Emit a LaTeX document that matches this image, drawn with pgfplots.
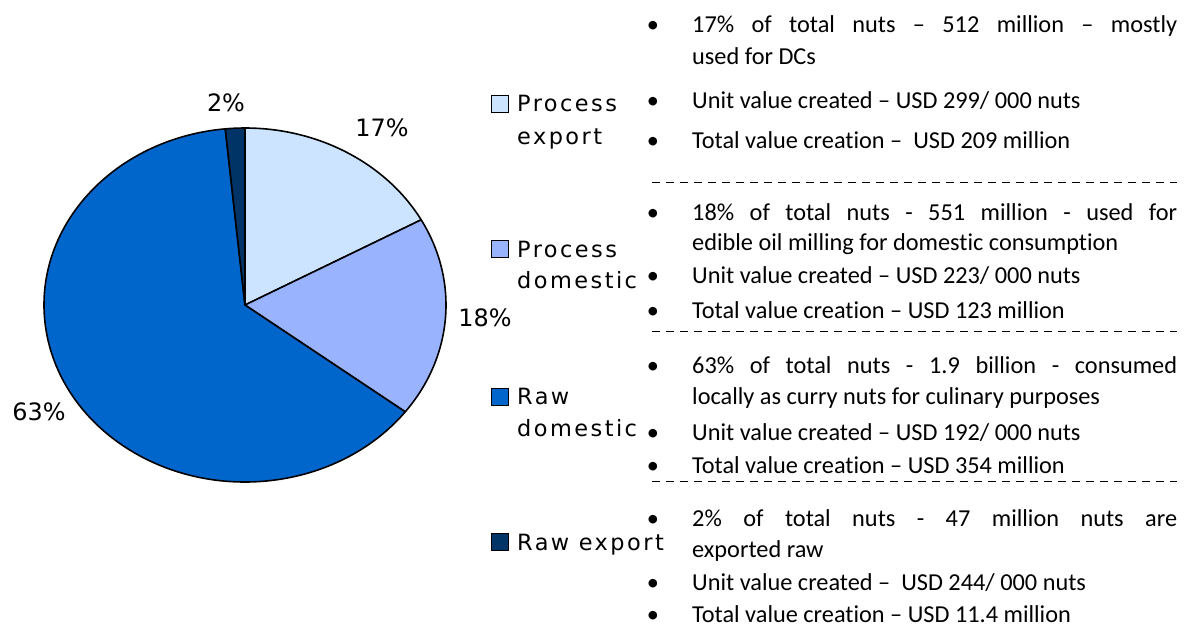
\documentclass[border=0pt]{standalone}
\usepackage{pgfplots}
\pgfplotsset{compat=1.18}
\usepackage{pgfplotstable}
\usepackage{fontspec}
\setmainfont{Carlito}[Ligatures=NoCommon]
\newfontfamily\lgd[LetterSpace=11]{DejaVu Sans}
\newfontfamily\pct{DejaVu Sans}

\definecolor{cPE}{RGB}{204,228,255}
\definecolor{cPD}{RGB}{153,179,255}
\definecolor{cRD}{RGB}{0,102,204}
\definecolor{cRE}{RGB}{0,51,102}

% nuts, million
\pgfplotstableread{
name value
PE 512
PD 551
RD 1900
RE 47
}\pietable

\pgfplotstablegetelem{0}{value}\of\pietable \pgfmathsetmacro\vA{\pgfplotsretval}
\pgfplotstablegetelem{1}{value}\of\pietable \pgfmathsetmacro\vB{\pgfplotsretval}
\pgfplotstablegetelem{2}{value}\of\pietable \pgfmathsetmacro\vC{\pgfplotsretval}
\pgfplotstablegetelem{3}{value}\of\pietable \pgfmathsetmacro\vD{\pgfplotsretval}
\pgfmathsetmacro\tot{\vA+\vB+\vC+\vD}
\pgfmathsetmacro\aA{90}
\pgfmathsetmacro\aB{\aA-360*(\vA/\tot)}
\pgfmathsetmacro\aC{\aB-360*(\vB/\tot)}
\pgfmathsetmacro\aD{\aC-360*(\vC/\tot)}
\pgfmathsetmacro\aE{\aD-360*(\vD/\tot)}

\newcommand\bt{\fontsize{24.4}{28}\selectfont}
\newcommand\lt{\lgd\fontsize{22.5}{26}\selectfont}

\begin{document}
\begin{tikzpicture}
\begin{axis}[width=1199bp,height=628bp,scale only axis,
  xmin=0,xmax=1199,ymin=0,ymax=628,y dir=reverse,
  axis lines=none,ticks=none,clip=false]
\path (axis cs:0,0) rectangle (axis cs:1199,628);
% pie
\draw[fill=cPE,line width=1.6pt,line join=round] (axis cs:245,305) -- ++(\aA:201bp and 177bp)
  arc[start angle=\aA,end angle=\aB,x radius=201bp,y radius=177bp] -- cycle;
\draw[fill=cPD,line width=1.6pt,line join=round] (axis cs:245,305) -- ++(\aB:201bp and 177bp)
  arc[start angle=\aB,end angle=\aC,x radius=201bp,y radius=177bp] -- cycle;
\draw[fill=cRD,line width=1.6pt,line join=round] (axis cs:245,305) -- ++(\aC:201bp and 177bp)
  arc[start angle=\aC,end angle=\aD,x radius=201bp,y radius=177bp] -- cycle;
\draw[fill=cRE,line width=1.6pt,line join=round] (axis cs:245,305) -- ++(\aD:201bp and 177bp)
  arc[start angle=\aD,end angle=\aE,x radius=201bp,y radius=177bp] -- cycle;
\draw[line width=2.6pt] (axis cs:245,305) -- ++(90:177bp);
% percentages
\node[font=\pct\fontsize{24}{28}\selectfont] at (axis cs:226,103) {2\%};
\node[font=\pct\fontsize{24}{28}\selectfont] at (axis cs:382,128) {17\%};
\node[font=\pct\fontsize{24}{28}\selectfont] at (axis cs:485,318) {18\%};
\node[font=\pct\fontsize{24}{28}\selectfont] at (axis cs:39,412) {63\%};
% legend
\draw[fill=cPE,line width=1pt] (axis cs:491,95) rectangle (axis cs:508,112);
\draw[fill=cPD,line width=1pt] (axis cs:491,240) rectangle (axis cs:508,257);
\draw[fill=cRD,line width=1pt] (axis cs:491,388) rectangle (axis cs:508,405);
\draw[fill=cRE,line width=1pt] (axis cs:491,533) rectangle (axis cs:508,550);
\node[anchor=base west,inner sep=0,font=\lt] at (axis cs:517,111) {Process};
\node[anchor=base west,inner sep=0,font=\lt] at (axis cs:517,144) {export};
\node[anchor=base west,inner sep=0,font=\lt] at (axis cs:517,257) {Process};
\node[anchor=base west,inner sep=0,font=\lt] at (axis cs:517,288) {domestic};
\node[anchor=base west,inner sep=0,font=\lt] at (axis cs:517,404) {Raw};
\node[anchor=base west,inner sep=0,font=\lt] at (axis cs:517,436) {domestic};
\node[anchor=base west,inner sep=0,font=\lt] at (axis cs:517,550) {Raw export};
% bullets
\pgfplotsinvokeforeach{32.5,108,148,220,283,318,373,440,473,526,590,622.5}{
  \node[anchor=base,inner sep=0,font=\bt] at (axis cs:653,#1) {•};}
% text
\node[anchor=base west,inner sep=0,font=\bt] at (axis cs:692,32.5) {\makebox[485bp][s]{17\% of total nuts – 512 million – mostly}};
\node[anchor=base west,inner sep=0,font=\bt] at (axis cs:692,65) {used for DCs};
\node[anchor=base west,inner sep=0,font=\bt] at (axis cs:692,108) {Unit value created – USD 299/ 000 nuts};
\node[anchor=base west,inner sep=0,font=\bt] at (axis cs:692,148) {Total value creation – \ USD 209 million};
\node[anchor=base west,inner sep=0,font=\bt] at (axis cs:692,220) {\makebox[485bp][s]{18\% of total nuts - 551 million - used for}};
\node[anchor=base west,inner sep=0,font=\bt] at (axis cs:692,250) {edible oil milling for domestic consumption};
\node[anchor=base west,inner sep=0,font=\bt] at (axis cs:692,283.5) {Unit value created – USD 223/ 000 nuts};
\node[anchor=base west,inner sep=0,font=\bt] at (axis cs:692,318) {Total value creation – USD 123 million};
\node[anchor=base west,inner sep=0,font=\bt] at (axis cs:692,373) {\makebox[485bp][s]{63\% of total nuts - 1.9 billion - consumed}};
\node[anchor=base west,inner sep=0,font=\bt] at (axis cs:692,404) {locally as curry nuts for culinary purposes};
\node[anchor=base west,inner sep=0,font=\bt] at (axis cs:692,440) {Unit value created – USD 192/ 000 nuts};
\node[anchor=base west,inner sep=0,font=\bt] at (axis cs:692,473) {Total value creation – USD 354 million};
\node[anchor=base west,inner sep=0,font=\bt] at (axis cs:692,526) {\makebox[485bp][s]{2\% of total nuts - 47 million nuts are}};
\node[anchor=base west,inner sep=0,font=\bt] at (axis cs:692,557) {exported raw};
\node[anchor=base west,inner sep=0,font=\bt] at (axis cs:692,590) {Unit value created – \ USD 244/ 000 nuts};
\node[anchor=base west,inner sep=0,font=\bt] at (axis cs:692,622.5) {Total value creation – USD 11.4 million};
% separators
\draw[line width=1pt,dash pattern=on 8bp off 6bp] (axis cs:652,182) -- (axis cs:1177,182);
\draw[line width=1pt,dash pattern=on 8bp off 6bp] (axis cs:652,331) -- (axis cs:1177,331);
\draw[line width=1pt,dash pattern=on 8bp off 6bp] (axis cs:652,481) -- (axis cs:1177,481);
\end{axis}
\end{tikzpicture}
\end{document}
